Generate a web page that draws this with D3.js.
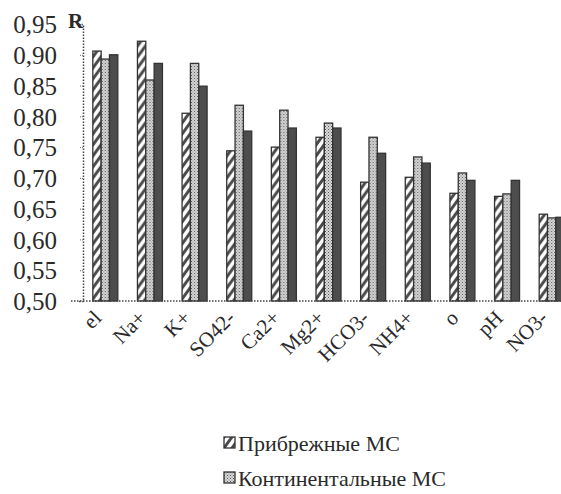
<!DOCTYPE html>
<html>
<head>
<meta charset="utf-8">
<script src="https://cdn.jsdelivr.net/npm/d3@7"></script>
</head>
<body style="margin:0;background:#fff">
<div id="chart"></div>
<script>
// data
const categories = ["el", "Na+", "K+", "SO42-", "Ca2+", "Mg2+", "HCO3-", "NH4+", "o", "pH", "NO3-"];
const coastal     = [0.906, 0.922, 0.805, 0.744, 0.750, 0.766, 0.693, 0.701, 0.675, 0.670, 0.641];
const continental = [0.893, 0.859, 0.886, 0.818, 0.810, 0.789, 0.766, 0.734, 0.708, 0.674, 0.635];
const third       = [0.900, 0.886, 0.849, 0.776, 0.781, 0.781, 0.740, 0.724, 0.696, 0.696, 0.636];
const yTicks = [0.50, 0.55, 0.60, 0.65, 0.70, 0.75, 0.80, 0.85, 0.90, 0.95];
const legendNames = ["Прибрежные МС", "Континентальные МС"];

const FONT = "Liberation Serif";
const INK = "#2a2a2a";

const W = 561, H = 494;
const margin = { top: 24, left: 83 },
      width = 491,   // plot runs past the right edge, the scan is cropped
      height = 277;

const svg = d3.select("#chart")
  .append("svg")
  .attr("width", W)
  .attr("height", H);

// patterns for the three bar fills
const defs = svg.append("defs");
const hatch = defs.append("pattern")
  .attr("id", "hatch")
  .attr("patternUnits", "userSpaceOnUse")
  .attr("width", 8).attr("height", 11);
hatch.append("rect").attr("width", 8).attr("height", 11).attr("fill", "#fff");
hatch.append("path")
  .attr("d", "M-2,13.75 L10,-2.75 M-10,13.75 L2,-2.75 M6,13.75 L18,-2.75")
  .attr("stroke", "#4a4a4a").attr("stroke-width", 3);

const dots = defs.append("pattern")
  .attr("id", "dots")
  .attr("patternUnits", "userSpaceOnUse")
  .attr("width", 3).attr("height", 3);
dots.append("rect").attr("width", 3).attr("height", 3).attr("fill", "#d8d8d8");
dots.append("rect").attr("width", 1).attr("height", 1).attr("fill", "#555");
dots.append("rect").attr("x", 1.5).attr("y", 1.5).attr("width", 1).attr("height", 1).attr("fill", "#777");

const fills = ["url(#hatch)", "url(#dots)", "#4d4d4d"];
const series = [coastal, continental, third];

const g = svg.append("g")
  .attr("transform", `translate(${margin.left},${margin.top})`);

const x = d3.scaleBand()
  .domain(categories)
  .range([0, width])
  .padding(0);

const groupW = 25;
const x1 = d3.scaleBand()
  .domain(d3.range(series.length))
  .range([0, groupW]);

const y = d3.scaleLinear()
  .domain([0.5, 0.95])
  .range([height, 0]);

// y axis
const yAxis = g.append("g")
  .call(d3.axisLeft(y).tickValues(yTicks).tickSize(4).tickPadding(22)
    .tickFormat(d => d3.format(".2f")(d).replace(".", ",")));
yAxis.select(".domain")
  .attr("stroke", "#444")
  .attr("stroke-dasharray", "1.5,1.5")
  .attr("stroke-width", 1.5);
yAxis.selectAll(".tick line").attr("stroke", "#666").attr("stroke-dasharray", "1,1");
yAxis.selectAll(".tick text")
  .attr("font-family", FONT)
  .attr("font-size", 25)
  .attr("fill", INK)
  .attr("dy", "0.35em");

g.append("text")
  .attr("x", -15)
  .attr("y", 4)
  .attr("font-family", FONT)
  .attr("font-size", 21)
  .attr("font-weight", "bold")
  .attr("fill", INK)
  .text("R");

// bars
const rows = categories.map((c, i) => ({ cat: c, vals: series.map(s => s[i]) }));

g.selectAll("g.grp")
  .data(rows)
  .join("g")
  .attr("class", "grp")
  .attr("transform", d => `translate(${x(d.cat) + (x.bandwidth() - groupW) / 2},0)`)
  .selectAll("rect")
  .data(d => d.vals.map((v, j) => ({ v, j })))
  .join("rect")
  .attr("x", d => x1(d.j))
  .attr("y", d => y(d.v))
  .attr("width", x1.bandwidth())
  .attr("height", d => height - y(d.v))
  .attr("fill", d => fills[d.j])
  .attr("stroke", "#333")
  .attr("stroke-width", 1.3);

// x axis line
const xAxis = g.append("g")
  .attr("transform", `translate(0,${height})`)
  .call(d3.axisBottom(x).tickSize(0).tickFormat(""));
xAxis.select(".domain")
  .attr("d", `M-12,0H${width}`)
  .attr("stroke", "#444")
  .attr("stroke-dasharray", "1.5,1.5")
  .attr("stroke-width", 1.5);

// rotated category labels
g.selectAll("g.xl")
  .data(categories)
  .join("g")
  .attr("class", "xl")
  .attr("transform", d => `translate(${x(d) + x.bandwidth() / 2 - 8},${height + 13}) rotate(-45)`)
  .append("text")
  .attr("text-anchor", "end")
  .attr("dy", "0.35em")
  .attr("font-family", FONT)
  .attr("font-size", 21)
  .attr("fill", INK)
  .text(d => d);

// legend (only two entries are visible in the figure)
const legend = svg.selectAll(".legend")
  .data(legendNames)
  .join("g")
  .attr("class", "legend")
  .attr("transform", (d, i) => `translate(224,${437 + i * 35})`);

legend.append("rect")
  .attr("width", 11)
  .attr("height", 11)
  .attr("fill", (d, i) => fills[i])
  .attr("stroke", "#333")
  .attr("stroke-width", 1.3);

legend.append("text")
  .attr("x", 14)
  .attr("y", 6)
  .attr("dy", "0.35em")
  .attr("font-family", FONT)
  .attr("font-size", 22)
  .attr("fill", INK)
  .text(d => d);
</script>
</body>
</html>
